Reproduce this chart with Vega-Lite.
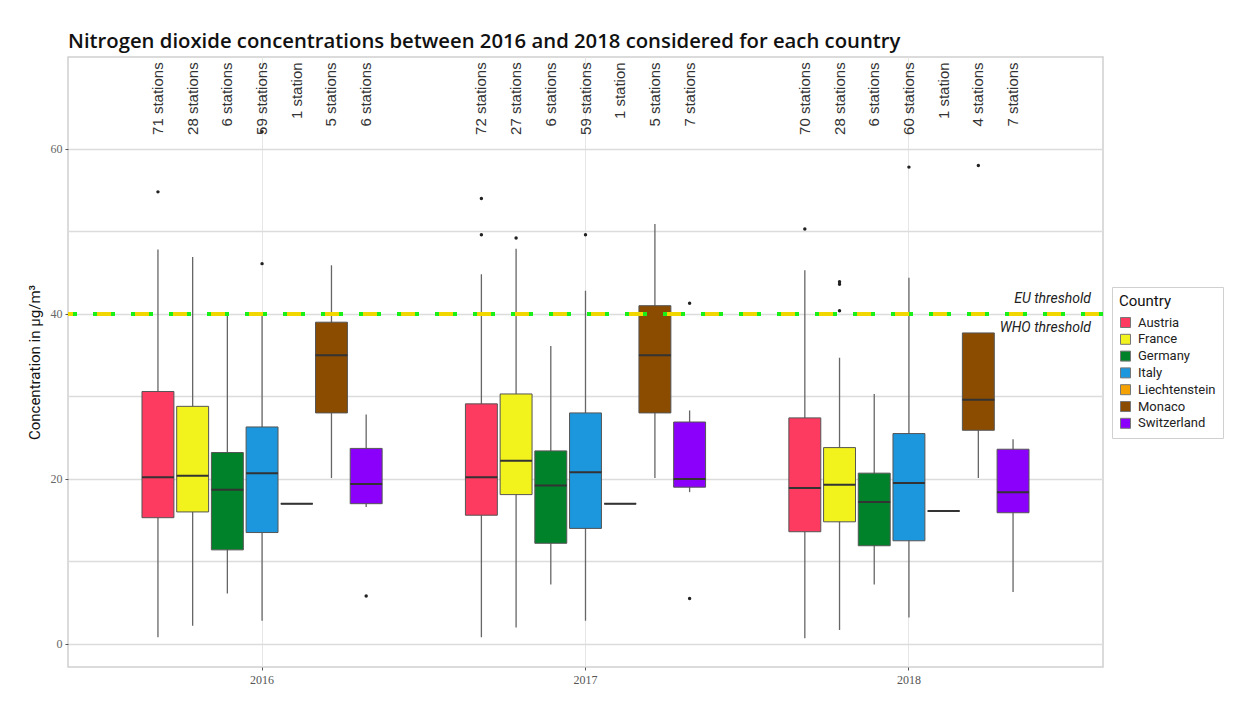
{
  "$schema": "https://vega.github.io/schema/vega-lite/v6.json",
  "autosize": {"type": "none"},
  "width": 1035,
  "height": 610,
  "padding": {"left": 68, "top": 57, "right": 145, "bottom": 40},
  "background": "white",
  "title": {
    "text": "Nitrogen dioxide concentrations between 2016 and 2018 considered for each country",
    "anchor": "start",
    "frame": "group",
    "font": "Open Sans",
    "fontSize": 20.3,
    "fontWeight": 600,
    "color": "#111111",
    "offset": 5
  },
  "config": {
    "view": {"stroke": "#cfcfcf", "strokeWidth": 1.5},
    "axis": {"domain": false}
  },
  "datasets": {
    "boxes": [
      {"year": "2016", "country": "Austria", "n": "71 stations", "lo": 0.8, "q1": 15.3, "med": 20.2, "q3": 30.6, "hi": 47.8},
      {"year": "2016", "country": "France", "n": "28 stations", "lo": 2.2, "q1": 16.0, "med": 20.4, "q3": 28.8, "hi": 46.9},
      {"year": "2016", "country": "Germany", "n": "6 stations", "lo": 6.1, "q1": 11.4, "med": 18.7, "q3": 23.2, "hi": 39.8},
      {"year": "2016", "country": "Italy", "n": "59 stations", "lo": 2.8, "q1": 13.5, "med": 20.7, "q3": 26.3, "hi": 39.8},
      {"year": "2016", "country": "Liechtenstein", "n": "1 station", "lo": 17.0, "q1": 17.0, "med": 17.0, "q3": 17.0, "hi": 17.0},
      {"year": "2016", "country": "Monaco", "n": "5 stations", "lo": 20.1, "q1": 28.0, "med": 35.0, "q3": 39.0, "hi": 45.9},
      {"year": "2016", "country": "Switzerland", "n": "6 stations", "lo": 16.6, "q1": 17.0, "med": 19.4, "q3": 23.7, "hi": 27.8},
      {"year": "2017", "country": "Austria", "n": "72 stations", "lo": 0.8, "q1": 15.6, "med": 20.2, "q3": 29.1, "hi": 44.8},
      {"year": "2017", "country": "France", "n": "27 stations", "lo": 2.0, "q1": 18.1, "med": 22.2, "q3": 30.3, "hi": 47.9},
      {"year": "2017", "country": "Germany", "n": "6 stations", "lo": 7.2, "q1": 12.2, "med": 19.2, "q3": 23.4, "hi": 36.1},
      {"year": "2017", "country": "Italy", "n": "59 stations", "lo": 2.8, "q1": 14.0, "med": 20.8, "q3": 28.0, "hi": 42.8},
      {"year": "2017", "country": "Liechtenstein", "n": "1 station", "lo": 17.0, "q1": 17.0, "med": 17.0, "q3": 17.0, "hi": 17.0},
      {"year": "2017", "country": "Monaco", "n": "5 stations", "lo": 20.1, "q1": 28.0, "med": 35.0, "q3": 41.0, "hi": 50.9},
      {"year": "2017", "country": "Switzerland", "n": "7 stations", "lo": 18.4, "q1": 19.0, "med": 20.0, "q3": 26.9, "hi": 28.3},
      {"year": "2018", "country": "Austria", "n": "70 stations", "lo": 0.7, "q1": 13.6, "med": 18.9, "q3": 27.4, "hi": 45.3},
      {"year": "2018", "country": "France", "n": "28 stations", "lo": 1.7, "q1": 14.8, "med": 19.3, "q3": 23.8, "hi": 34.7},
      {"year": "2018", "country": "Germany", "n": "6 stations", "lo": 7.2, "q1": 11.9, "med": 17.2, "q3": 20.7, "hi": 30.3},
      {"year": "2018", "country": "Italy", "n": "60 stations", "lo": 3.2, "q1": 12.5, "med": 19.5, "q3": 25.5, "hi": 44.4},
      {"year": "2018", "country": "Liechtenstein", "n": "1 station", "lo": 16.1, "q1": 16.1, "med": 16.1, "q3": 16.1, "hi": 16.1},
      {"year": "2018", "country": "Monaco", "n": "4 stations", "lo": 20.1, "q1": 25.9, "med": 29.6, "q3": 37.7, "hi": 37.7},
      {"year": "2018", "country": "Switzerland", "n": "7 stations", "lo": 6.3, "q1": 15.9, "med": 18.4, "q3": 23.6, "hi": 24.8}
    ],
    "outliers": [
      {"year": "2016", "country": "Austria", "value": 54.8},
      {"year": "2016", "country": "Italy", "value": 46.1},
      {"year": "2016", "country": "Italy", "value": 62.1},
      {"year": "2016", "country": "Switzerland", "value": 5.8},
      {"year": "2017", "country": "Austria", "value": 54.0},
      {"year": "2017", "country": "Austria", "value": 49.6},
      {"year": "2017", "country": "France", "value": 49.2},
      {"year": "2017", "country": "Italy", "value": 49.6},
      {"year": "2017", "country": "Switzerland", "value": 41.3},
      {"year": "2017", "country": "Switzerland", "value": 5.5},
      {"year": "2018", "country": "Austria", "value": 50.3},
      {"year": "2018", "country": "France", "value": 43.9},
      {"year": "2018", "country": "France", "value": 43.6},
      {"year": "2018", "country": "France", "value": 40.4},
      {"year": "2018", "country": "Italy", "value": 57.8},
      {"year": "2018", "country": "Monaco", "value": 58.0}
    ],
    "limit": [
      {"value": 40}
    ],
    "thresholds": [
      {"year": "2018", "label": "EU threshold", "value": 41.8},
      {"year": "2018", "label": "WHO threshold", "value": 38.3}
    ]
  },
  "encoding": {
    "x": {
      "field": "year",
      "type": "nominal",
      "scale": {"paddingInner": 0, "paddingOuter": 0.1},
      "axis": {
        "title": null,
        "labelAngle": 0,
        "labelFont": "Liberation Serif",
        "labelFontSize": 12,
        "labelColor": "#555555",
        "tickColor": "#555555",
        "tickSize": 3,
        "labelPadding": 4,
        "grid": true,
        "gridColor": "#e6e6e6",
        "gridWidth": 1
      }
    },
    "y": {
      "type": "quantitative",
      "scale": {"domain": [-2.8, 71.15], "nice": false, "zero": false},
      "axis": {
        "title": "Concentration in μg/m³",
        "titleFont": "Roboto",
        "titleFontSize": 15,
        "titleFontWeight": "normal",
        "titleColor": "#111111",
        "titlePadding": 8,
        "values": [0, 10, 20, 30, 40, 50, 60],
        "labelExpr": "datum.value % 20 == 0 ? datum.label : ''",
        "labelFont": "Liberation Serif",
        "labelFontSize": 12,
        "labelColor": "#666666",
        "tickColor": {"condition": {"test": "datum.value % 20 == 0", "value": "#555555"}, "value": "transparent"},
        "tickSize": 3,
        "labelPadding": 3,
        "grid": true,
        "gridColor": "#dcdcdc",
        "gridWidth": 1.5
      }
    }
  },
  "layer": [
    {
      "data": {"name": "boxes"},
      "mark": {"type": "rule", "color": "#666666", "strokeWidth": 1.3},
      "encoding": {
        "xOffset": {
          "field": "country",
          "type": "nominal",
          "scale": {
            "domain": ["_a", "Austria", "France", "Germany", "Italy", "Liechtenstein", "Monaco", "Switzerland", "_b"],
            "paddingInner": 0.08,
            "paddingOuter": 0.2
          }
        },
        "y": {"field": "lo", "type": "quantitative"},
        "y2": {"field": "hi"}
      }
    },
    {
      "data": {"name": "boxes"},
      "mark": {"type": "bar", "stroke": "#555555", "strokeWidth": 1},
      "encoding": {
        "xOffset": {"field": "country", "type": "nominal"},
        "y": {"field": "q1", "type": "quantitative"},
        "y2": {"field": "q3"},
        "fill": {
          "field": "country",
          "type": "nominal",
          "scale": {
            "domain": ["Austria", "France", "Germany", "Italy", "Liechtenstein", "Monaco", "Switzerland"],
            "range": ["#fd3a60", "#f2f21c", "#00822a", "#1c96dc", "#f5a100", "#8b4c00", "#8a00fa"]
          },
          "legend": {
            "title": "Country",
            "titleFont": "Roboto",
            "titleFontSize": 15,
            "titleFontWeight": "normal",
            "titleColor": "#111111",
            "titlePadding": 7,
            "labelFont": "Roboto",
            "labelFontSize": 13,
            "labelColor": "#222222",
            "labelOffset": 6,
            "symbolType": "square",
            "symbolSize": 100,
            "symbolStrokeColor": "#777777",
            "symbolStrokeWidth": 1,
            "rowPadding": 1.8,
            "orient": "none",
            "legendX": 1044,
            "legendY": 230,
            "padding": 7,
            "strokeColor": "#d0d0d0",
            "fillColor": "white"
          }
        }
      }
    },
    {
      "data": {"name": "boxes"},
      "mark": {"type": "bar", "fill": null, "stroke": "#333333", "strokeWidth": 2},
      "encoding": {
        "xOffset": {"field": "country", "type": "nominal"},
        "y": {"field": "med", "type": "quantitative"},
        "y2": {"field": "med"}
      }
    },
    {
      "data": {"name": "outliers"},
      "mark": {"type": "point", "filled": true, "color": "#222222", "size": 12, "opacity": 1},
      "encoding": {
        "xOffset": {"field": "country", "type": "nominal"},
        "y": {"field": "value", "type": "quantitative"}
      }
    },
    {
      "data": {"name": "limit"},
      "mark": {"type": "rule", "color": "#f2d600", "strokeWidth": 4, "strokeDash": [22, 16]},
      "encoding": {"y": {"field": "value", "type": "quantitative"}, "x": null}
    },
    {
      "data": {"name": "limit"},
      "mark": {"type": "rule", "color": "#19f019", "strokeWidth": 4, "strokeDash": [4, 14, 4, 16]},
      "encoding": {"y": {"field": "value", "type": "quantitative"}, "x": null}
    },
    {
      "data": {"name": "boxes"},
      "mark": {"type": "text", "angle": 270, "align": "right", "baseline": "middle", "font": "Liberation Sans", "fontSize": 15, "color": "#333333"},
      "encoding": {
        "xOffset": {"field": "country", "type": "nominal"},
        "y": {"datum": 70.5},
        "text": {"field": "n"}
      }
    },
    {
      "data": {"name": "thresholds"},
      "mark": {"type": "text", "align": "right", "baseline": "middle", "font": "Roboto", "fontStyle": "italic", "fontSize": 14, "color": "#222222", "dx": 182},
      "encoding": {
        "y": {"field": "value", "type": "quantitative"},
        "text": {"field": "label"}
      }
    }
  ]
}
